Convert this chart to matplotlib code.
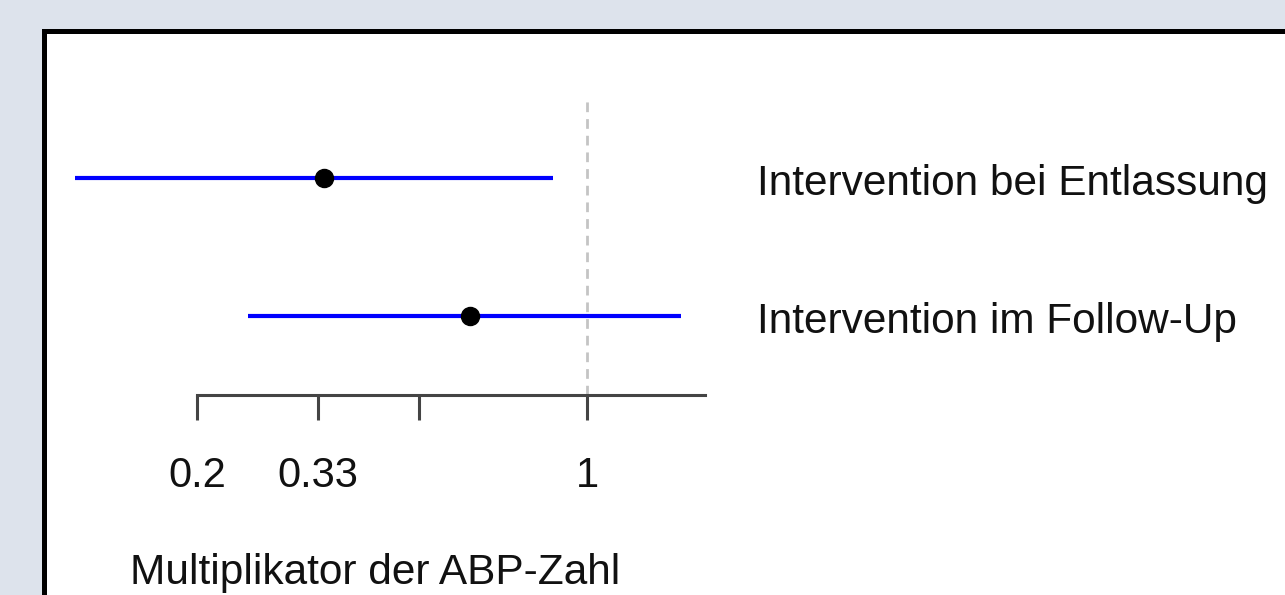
import numpy as np
import matplotlib
matplotlib.use("Agg")
import matplotlib.pyplot as plt
from matplotlib.patches import Rectangle
from matplotlib.transforms import blended_transform_factory

plt.rcParams['font.family'] = ['Liberation Sans', 'DejaVu Sans']

# Data
labels = ["Intervention bei Entlassung", "Intervention im Follow-Up"]
estimates = [0.338, 0.617]
ci_lower = [0.121, 0.247]
ci_upper = [0.869, 1.474]
tick_values = [0.2, 0.33, 0.5, 1]
tick_labels = ["0.2", "0.33", "", "1"]
xlabel = "Multiplikator der ABP-Zahl"
ref_value = 1

W, H = 1285, 595
fig = plt.figure(figsize=(W / 100, H / 100), dpi=100)
fig.patch.set_facecolor('#dde3ec')

# white panel with black border
panel = Rectangle((44 / W, -0.05), 1.1, (H - 31) / H + 0.05, transform=fig.transFigure,
                  facecolor='white', edgecolor='black', linewidth=3.6, zorder=-5)
fig.patches.append(panel)

ax_l, ax_r = 60, 720
ax_t, ax_b = 35, 595
ax = fig.add_axes([ax_l / W, (H - ax_b) / H, (ax_r - ax_l) / W, (ax_b - ax_t) / H])
ax.set_zorder(2)
ax.set_facecolor('none')
ax.set_xscale('log')
scale = 242.4
x0 = 587
ax.set_xlim(np.exp((ax_l - x0) / scale), np.exp((ax_r - x0) / scale))
ypx = 138
ax.set_ylim(1 - (ax_b - 316) / ypx, 1 + (316 - ax_t) / ypx)

rows = [2, 1]
axis_y = 1 - (395 - 316) / ypx
dash_top = 1 + (316 - 95) / ypx

ax.plot([ref_value, ref_value], [axis_y, dash_top], color='#c4c4c4', linestyle=(0, (3.5, 2.5)),
        linewidth=2, zorder=1)
for r, est, lo, hi in zip(rows, estimates, ci_lower, ci_upper):
    ax.plot([lo, hi], [r, r], color='#0000ff', linewidth=3, solid_capstyle='butt', zorder=2)
    ax.plot([est], [r], 'o', color='black', markersize=13, zorder=3)

for s in ['top', 'right', 'left']:
    ax.spines[s].set_visible(False)
ax.spines['bottom'].set_position(('data', axis_y))
ax.spines['bottom'].set_bounds(0.2, 1.63)
ax.spines['bottom'].set_color('#444444')
ax.spines['bottom'].set_linewidth(2.2)
ax.set_yticks([])
ax.xaxis.set_minor_locator(matplotlib.ticker.NullLocator())
ax.set_xticks(tick_values)
ax.set_xticklabels(tick_labels)
ax.tick_params(axis='x', direction='out', length=18, width=2.2, color='#444444',
               pad=26, labelsize=30, labelcolor='#111111')

tr = blended_transform_factory(ax.transAxes, ax.transData)
lab_x = (757 - ax_l) / (ax_r - ax_l)
for r, lab in zip(rows, labels):
    base = r - 17 / ypx
    ax.text(lab_x, base, lab, transform=tr, ha='left', va='baseline', fontsize=30.5,
            color='#111111', clip_on=False)

fig.text(130 / W, 1 - 584 / H, xlabel, ha='left', va='baseline', fontsize=30.5, color='#111111')

fig.savefig('out.png', dpi=100, facecolor=fig.get_facecolor())
